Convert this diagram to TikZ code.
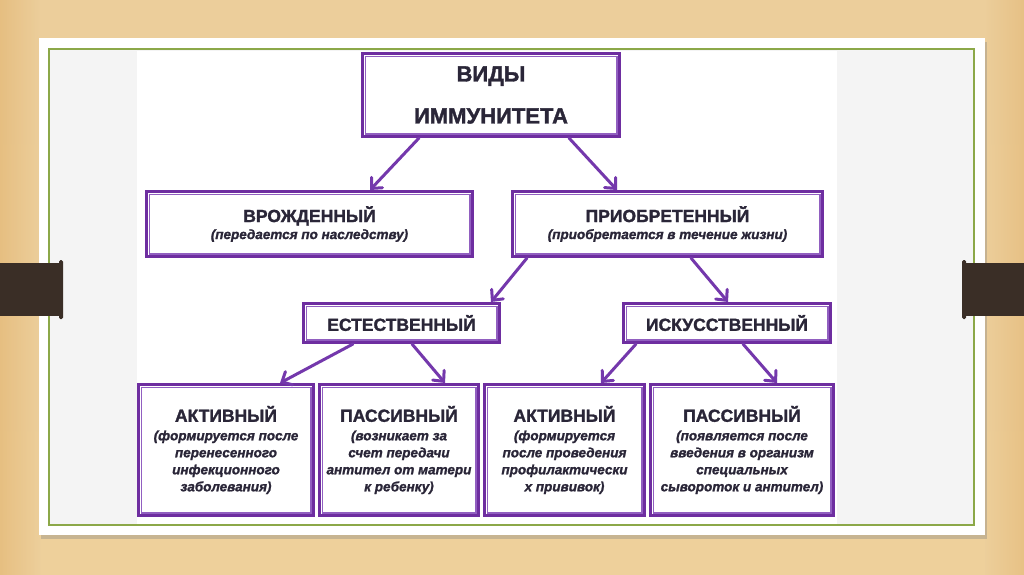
\documentclass[tikz,border=0pt]{standalone}
\usepackage{fontspec}
\setmainfont{Liberation Sans}[BoldFeatures={FakeBold=1.6},BoldItalicFeatures={FakeBold=1.4}]
\usetikzlibrary{arrows.meta,shadows}
\definecolor{woodtop}{RGB}{236,206,155}
\definecolor{woodbot}{RGB}{238,208,155}
\definecolor{woodside}{RGB}{226,180,112}
\definecolor{cardgrey}{RGB}{244,244,244}
\definecolor{frame}{RGB}{140,168,72}
\definecolor{tab}{RGB}{58,46,38}
\definecolor{boxpurple}{RGB}{110,46,160}
\definecolor{boxinner}{RGB}{145,95,192}
\definecolor{arrpurple}{RGB}{116,56,172}
\definecolor{textc}{RGB}{42,38,56}
\tikzset{
  box/.style={draw=boxpurple, line width=3pt, fill=white, inner sep=0pt,
    align=center, text=textc},
  innerline/.style={draw=boxinner, line width=1.4pt},
  ttl/.style={font=\fontsize{13.5}{17}\selectfont\bfseries},
  arr/.style={draw=arrpurple, line width=3pt, line cap=round,
    -{Straight Barb[length=8pt,width=15pt,line cap=round]}},
}
\begin{document}
\begin{tikzpicture}[x=1pt,y=-1pt]
\useasboundingbox (0,0) rectangle (1024,574);
% wood background
\shade[top color=woodtop, bottom color=woodbot] (0,0) rectangle (1024,574);
\shade[left color=woodside, right color=woodtop, opacity=0.6] (0,0) rectangle (40,574);
\shade[left color=woodtop, right color=woodside, opacity=0.5] (985,0) rectangle (1024,574);
% card
\fill[white, drop shadow={shadow xshift=2pt, shadow yshift=-4pt, opacity=0.35}] (39,38) rectangle (985,535);
\fill[cardgrey] (49,49) rectangle (974,525);
\fill[white] (137,51) rectangle (837,525);
\draw[frame, line width=1.3pt] (49,49) rectangle (974,525);
% tabs
\fill[tab] (0,263) rectangle (62,316);
\fill[tab, rounded corners=1.5pt] (59,260) rectangle (63,319);
\fill[tab] (963,263) rectangle (1024,316);
\fill[tab, rounded corners=1.5pt] (962,260) rectangle (966,319);
% boxes
\node[box, minimum width=257pt, minimum height=83pt, font=\fontsize{22}{42}\selectfont\bfseries] (top) at (491,95) {ВИДЫ\\ИММУНИТЕТА};
\node[box, ttl, minimum width=326pt, minimum height=65pt] (vr) at (309.5,224)
  {{\fontsize{17.5}{17}\selectfont ВРОЖДЕННЫЙ}\\\itshape (передается по наследству)};
\node[box, ttl, minimum width=310pt, minimum height=65pt] (pr) at (667.5,224)
  {{\fontsize{17.5}{17}\selectfont ПРИОБРЕТЕННЫЙ}\\\itshape (приобретается в течение жизни)};
\node[box, minimum width=196pt, minimum height=39pt, font=\fontsize{17.5}{20}\selectfont\bfseries] (es) at (401.5,323) {ЕСТЕСТВЕННЫЙ};
\node[box, minimum width=207pt, minimum height=39pt, font=\fontsize{17.5}{20}\selectfont\bfseries] (is) at (727,323) {ИСКУССТВЕННЫЙ};
\node[box, ttl, minimum width=175pt, minimum height=131pt] (a1) at (226,450)
  {{\fontsize{17.5}{17}\selectfont АКТИВНЫЙ}\\[1.5pt]\itshape (формируется после\\\itshape перенесенного\\\itshape инфекционного\\\itshape заболевания)};
\node[box, ttl, minimum width=159pt, minimum height=131pt] (p1) at (399,450)
  {{\fontsize{17.5}{17}\selectfont ПАССИВНЫЙ}\\[1.5pt]\itshape (возникает за\\\itshape счет передачи\\\itshape антител от матери\\\itshape к ребенку)};
\node[box, ttl, minimum width=160pt, minimum height=131pt] (a2) at (564.5,450)
  {{\fontsize{17.5}{17}\selectfont АКТИВНЫЙ}\\[1.5pt]\itshape (формируется\\\itshape после проведения\\\itshape профилактически\\\itshape х прививок)};
\node[box, ttl, minimum width=183pt, minimum height=131pt] (p2) at (742,450)
  {{\fontsize{17.5}{17}\selectfont ПАССИВНЫЙ}\\[1.5pt]\itshape (появляется после\\\itshape введения в организм\\\itshape специальных\\\itshape сывороток и антител)};
% inner border lines
\foreach \n in {top,vr,pr,es,is,a1,p1,a2,p2}
  \draw[innerline] ([shift={(4.2pt,-4.2pt)}]\n.north west) rectangle ([shift={(-4.2pt,4.2pt)}]\n.south east);
% arrows
\draw[arr] ([xshift=-72pt]top.south) -- ([xshift=60.5pt]vr.north);
\draw[arr] ([xshift=78pt]top.south) -- ([xshift=-50.5pt]pr.north);
\draw[arr] ([xshift=-140.5pt]pr.south) -- ([xshift=89.5pt]es.north);
\draw[arr] ([xshift=23.5pt]pr.south) -- ([xshift=1pt]is.north);
\draw[arr] ([xshift=-48.5pt]es.south) -- ([xshift=54pt]a1.north);
\draw[arr] ([xshift=10.5pt]es.south) -- ([xshift=46pt]p1.north);
\draw[arr] ([xshift=-91pt]is.south) -- ([xshift=36.5pt]a2.north);
\draw[arr] ([xshift=16pt]is.south) -- ([xshift=35pt]p2.north);
\end{tikzpicture}
\end{document}
